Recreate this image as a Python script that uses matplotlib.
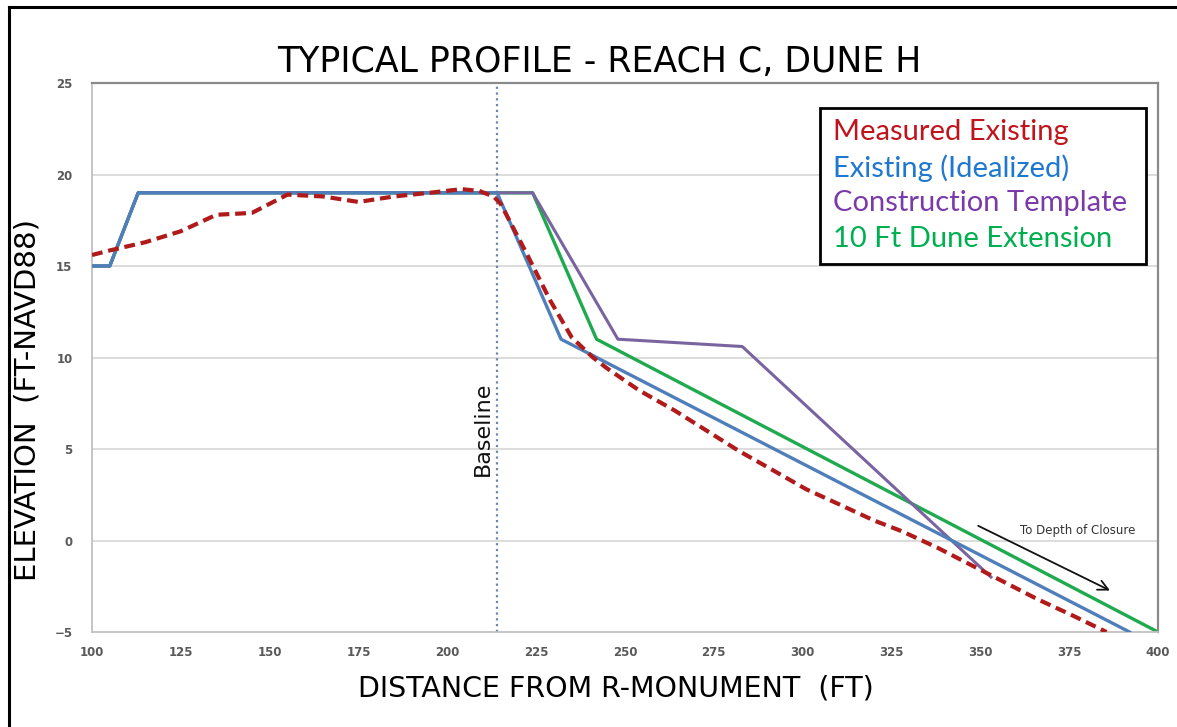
import matplotlib.pyplot as plt
from matplotlib.lines import Line2D

# distance (ft) / elevation (ft) for each profile
measured_x = [100, 105, 115, 125, 135, 145, 155, 165, 175, 185, 195, 204, 209, 213,
              215, 222, 229, 235, 241, 245, 254, 264, 273, 282, 292, 301, 310, 320,
              328, 338, 348, 356, 366, 376, 385.5]
measured_y = [15.6, 15.85, 16.3, 16.9, 17.8, 17.9, 18.9, 18.8, 18.5, 18.8, 19.0, 19.2,
              19.1, 18.8, 18.4, 15.8, 13.1, 11.1, 10.0, 9.4, 8.2, 7.1, 6.0, 4.9, 3.8,
              2.8, 2.0, 1.1, 0.5, -0.4, -1.4, -2.2, -3.2, -4.1, -5.0]

ideal_x = [100, 105, 113, 214, 232, 392]
ideal_y = [15, 15, 19, 19, 11, -5]

template_x = [100, 105, 113, 224, 248, 283, 353]
template_y = [15, 15, 19, 19, 11, 10.6, -2]

extension_x = [100, 105, 113, 224, 242, 400]
extension_y = [15, 15, 19, 19, 11, -5]

baseline_x = 214
x_ticks = list(range(100, 401, 25))
y_ticks = list(range(-5, 26, 5))

legend_labels = ["Measured Existing", "Existing (Idealized)",
                 "Construction Template", "10 Ft Dune Extension"]
legend_colors = ["#c0141c", "#1f78cf", "#7a3aaa", "#00b050"]

fig = plt.figure(figsize=(11.77, 7.27), dpi=100)
ax = fig.add_axes([92 / 1177, 1 - 632 / 727, (1158 - 92) / 1177, (632 - 83) / 727])

# gridlines
for yv in y_ticks[1:-1]:
    ax.axhline(yv, color="#d9d9d9", lw=1.3, zorder=0)

ax.axvline(baseline_x, color="#6d86a8", lw=1.6, linestyle=(0, (1, 1.6)), zorder=1)

ax.plot(extension_x, extension_y, color="#1faa4f", lw=2.4, zorder=2)
ax.plot(template_x, template_y, color="#7a64a0", lw=2.2, zorder=3)
ax.plot(ideal_x, ideal_y, color="#4f7fba", lw=2.4, zorder=4)
ax.plot(measured_x, measured_y, color="#b01a1a", lw=3.0, linestyle=(0, (2.6, 1.4)), zorder=5)

ax.set_xlim(100, 400)
ax.set_ylim(-5, 25)
ax.set_xticks(x_ticks)
ax.set_yticks(y_ticks)
ax.tick_params(length=0, labelsize=8.5, labelcolor="#595959")
ax.tick_params(axis="x", pad=10)
ax.tick_params(axis="y", pad=14)
for lab in ax.get_xticklabels() + ax.get_yticklabels():
    lab.set_fontweight("bold")

for side in ["left", "bottom"]:
    ax.spines[side].set_color("#c0c0c0")
    ax.spines[side].set_linewidth(1.3)
for side in ["top", "right"]:
    ax.spines[side].set_color("#8a8a8a")
    ax.spines[side].set_linewidth(1.6)

# baseline label
ax.text(baseline_x - 1.2, 6.1, "Baseline", rotation=90, ha="right", va="center",
        fontsize=16, family="DejaVu Sans", color="#111111")

# depth of closure arrow
ax.annotate("", xy=(387.2, -2.8), xytext=(348.7, 0.87),
            arrowprops=dict(arrowstyle="->", color="#111111", lw=1.3, mutation_scale=18))
ax.text(377.5, 0.55, "To Depth of Closure", ha="center", va="center",
        fontsize=8.5, color="#333333")

# legend box
leg_box = plt.Rectangle((820 / 1177, 1 - 264 / 727), 326 / 1177, 156 / 727,
                        transform=fig.transFigure, fill=True, facecolor="white",
                        edgecolor="black", lw=2.0, zorder=10)
fig.patches.append(leg_box)
for i, (lbl, col) in enumerate(zip(legend_labels, legend_colors)):
    fig.text(833 / 1177, 1 - (132 + i * 35.7) / 727, lbl, color=col, fontsize=21,
             family="Lato", ha="left", va="center", zorder=11)

# titles
fig.text(599 / 1177, 1 - 62 / 727, "TYPICAL PROFILE - REACH C, DUNE H",
         ha="center", va="center", fontsize=25, family="DejaVu Sans")
fig.text(616 / 1177, 1 - 688 / 727, "DISTANCE FROM R-MONUMENT  (FT)",
         ha="center", va="center", fontsize=20.5, family="DejaVu Sans")
fig.text(28 / 1177, 1 - 400 / 727, "ELEVATION  (FT-NAVD88)", rotation=90,
         ha="center", va="center", fontsize=21, family="DejaVu Sans")

# outer frame
fig.add_artist(Line2D([9 / 1177, 9 / 1177], [0, 1 - 7 / 727], transform=fig.transFigure,
                      color="black", lw=2.2))
fig.add_artist(Line2D([9 / 1177, 1], [1 - 7 / 727, 1 - 7 / 727], transform=fig.transFigure,
                      color="black", lw=2.2))

fig.savefig("out.png", dpi=100)
